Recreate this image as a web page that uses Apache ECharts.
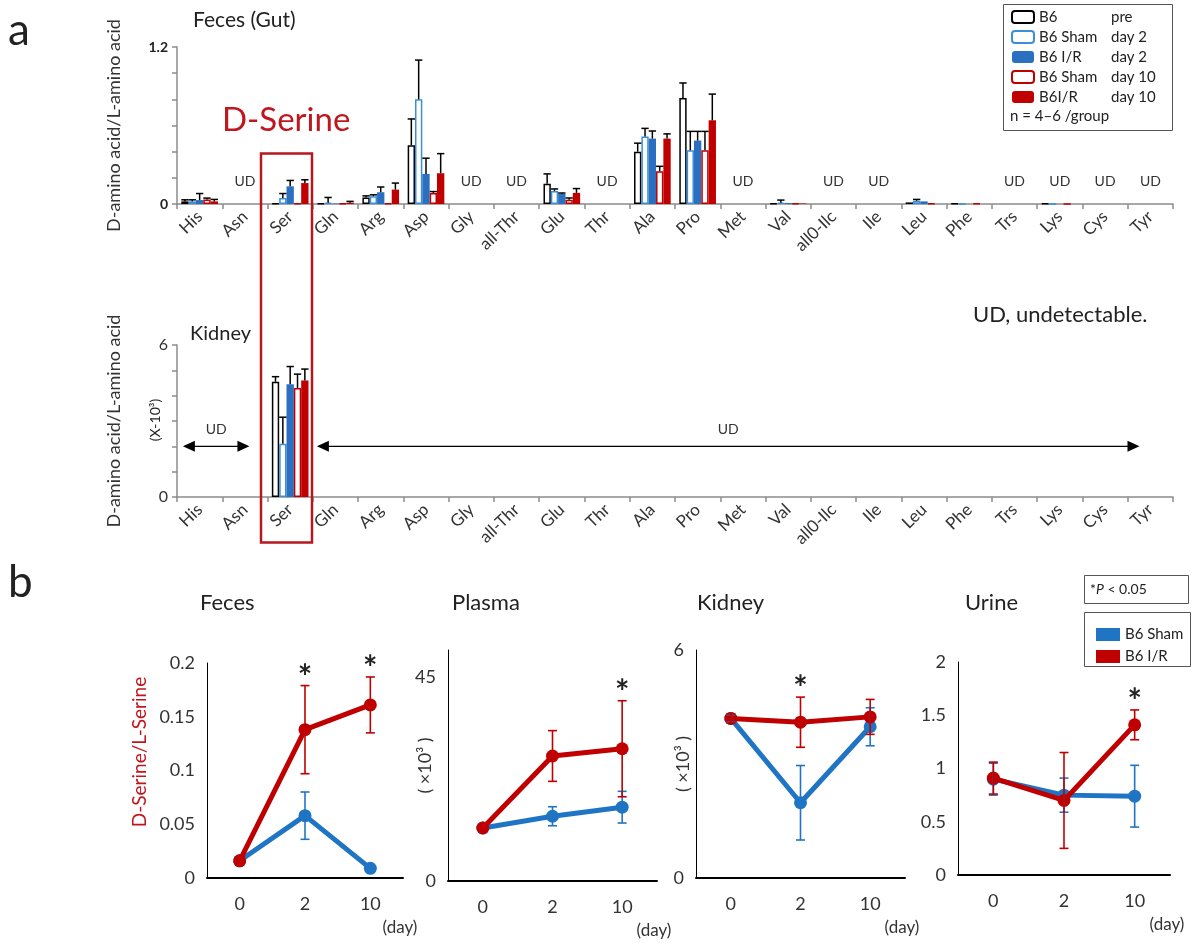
<!DOCTYPE html>
<html>
<head>
<meta charset="utf-8">
<script src="https://cdn.jsdelivr.net/npm/echarts@6/dist/echarts.min.js"></script>
<style>html,body{margin:0;padding:0;background:#fff;}#c{width:1198px;height:943px;}</style>
</head>
<body>
<div id="c"></div>
<script>
// ---------------- DATA ----------------
const aminoAcids = ['His','Asn','Ser','Gln','Arg','Asp','Gly','all-Thr','Glu','Thr','Ala','Pro','Met','Val','all0-Ilc','Ile','Leu','Phe','Trs','Lys','Cys','Tyr'];
const barGroups = ['B6','B6 Sham','B6 I/R','B6 Sham','B6I/R'];
const barTimes  = ['pre','day 2','day 2','day 10','day 10'];
// Feces (Gut) D/L ratio, per amino acid (null = UD)
//                 His   Asn   Ser    Gln    Arg   Asp   Gly  aThr  Glu    Thr   Ala   Pro   Met   Val    aIlc  Ile   Leu    Phe    Trs   Lys    Cys   Tyr
const fecesPre    = [0.02, null, 0.005, 0.005, 0.05, 0.45, null, null, 0.155, null, 0.40, 0.81, null, 0.005, null, null, 0.012, 0.004, null, 0.004, null, null];
const fecesPreErr = [0.012,0,    0,     0,     0.012,0.20, 0,    0,    0.075, 0,    0.065,0.115,0,    0,     0,    0,    0,     0,     0,    0,     0,    0];
const fecesSham2  = [0.02, null, 0.045, 0.01,  0.06, 0.80, null, null, 0.10,  null, 0.515,0.41, null, 0.01,  null, null, 0.025, 0,     null, 0,     null, null];
const fecesSham2Err=[0.012,0,    0.035, 0.04,  0.01, 0.30, 0,    0,    0.015, 0,    0.063,0.145,0,    0.02,  0,    0,    0.01,  0,     0,    0,     0,    0];
const fecesIR2    = [0.03, null, 0.135, 0.003, 0.09, 0.23, null, null, 0.078, null, 0.50, 0.485,null, 0.008, null, null, 0.02,  0,     null, 0,     null, null];
const fecesIR2Err = [0.05, 0,    0.045, 0,     0.04, 0.12, 0,    0,    0.006, 0,    0.058,0.07, 0,    0,     0,    0,    0,     0,     0,    0,     0,    0];
const fecesSham10 = [0.035,null, 0.005, 0.005, 0.005,0.085,null, null, 0.033, null, 0.25, 0.41, null, 0.005, null, null, 0.005, 0.004, null, 0,     null, null];
const fecesSham10Err=[0.01,0,    0,     0,     0,    0.01, 0,    0,    0.013, 0,    0.038,0.145,0,    0,     0,    0,    0,     0,     0,    0,     0,    0];
const fecesIR10   = [0.02, null, 0.16,  0.01,  0.11, 0.235,null, null, 0.085, null, 0.50, 0.64, null, 0.004, null, null, 0,     0,     null, 0,     null, null];
const fecesIR10Err= [0.015,0,    0.025, 0.01,  0.05, 0.15, 0,    0,    0.033, 0,    0.036,0.20, 0,    0,     0,    0,    0,     0,     0,    0,     0,    0];
const fecesUD = ['Asn','Gly','all-Thr','Thr','Met','all0-Ilc','Ile','Trs','Lys','Cys','Tyr'];
// Kidney D/L ratio (x10^-3): only Ser detected; order = pre, Sham d2, I/R d2, Sham d10, I/R d10
const kidneySer    = [4.55, 2.1, 4.45, 4.3, 4.6];
const kidneySerErr = [0.2, 1.05, 0.7, 0.55, 0.45];
// UD ranges in kidney (value-axis positions over the 22 categories)
const kidneyUDRanges = [[0.13, 1.6], [3.09, 21.26]];

// Time course (panel b)
const days = ['0','2','10'];
const fecesSham = [0.016, 0.058, 0.009],  fecesShamErr = [0, 0.022, 0];
const fecesIR   = [0.016, 0.138, 0.161],  fecesIRErr   = [0, 0.041, 0.026];
const fecesSig  = [0, 1, 1];
const plasmaSham = [11.7, 14.3, 16.3],    plasmaShamErr = [0, 2.1, 3.5];
const plasmaIR   = [11.7, 27.6, 29.2],    plasmaIRErr   = [0, 5.6, 10.6];
const plasmaSig  = [0, 0, 1];
const kidneySham = [4.20, 1.98, 3.98],    kidneyShamErr = [0.1, 0.98, 0.5];
const kidneyIR   = [4.20, 4.10, 4.24],    kidneyIRErr   = [0.12, 0.66, 0.46];
const kidneySig  = [0, 1, 0];
const urineSham = [0.90, 0.75, 0.74],     urineShamErr = [0.15, 0.16, 0.29];
const urineIR   = [0.91, 0.70, 1.41],     urineIRErr   = [0.15, 0.45, 0.14];
const urineSig  = [0, 0, 1];

// ---------------- STYLE ----------------
const FONT = 'Lato, "Open Sans", sans-serif';
const RED = '#C00000', BLUE = '#1F75C4', BAR_BLUE = '#2A6FC0', LIGHT_BLUE = '#3A8FD8';
const BAR_FRAC = 0.162;
const barNames = barGroups.map((g, i) => g + ' ' + barTimes[i]);
const barStyles = [
  {color:'#fff', borderColor:'#000', borderWidth:1.5},
  {color:'#fff', borderColor:LIGHT_BLUE, borderWidth:1.5},
  {color:BAR_BLUE, borderColor:BAR_BLUE, borderWidth:0},
  {color:'#fff', borderColor:RED, borderWidth:1.5},
  {color:RED, borderColor:RED, borderWidth:0}
];
const fecesVals = [fecesPre, fecesSham2, fecesIR2, fecesSham10, fecesIR10];
const fecesErrs = [fecesPreErr, fecesSham2Err, fecesIR2Err, fecesSham10Err, fecesIR10Err];

const chart = echarts.init(document.getElementById('c'), null, {renderer:'canvas'});

function barErrRender(params, api) {
  const ci = api.value(0), v = api.value(1), e = api.value(2), g = api.value(3);
  if (!(e > 0)) return;
  const band = api.size([1, 0])[0];
  const bw = band * BAR_FRAC;
  const p0 = api.coord([ci, v]);
  const p1 = api.coord([ci, v + e]);
  const cx = p0[0] + (g - 2) * bw;
  const st = {stroke:'#000', lineWidth:1.5};
  return {type:'group', children:[
    {type:'line', shape:{x1:cx, y1:p0[1], x2:cx, y2:p1[1]}, style:st},
    {type:'line', shape:{x1:cx - bw/2, y1:p1[1], x2:cx + bw/2, y2:p1[1]}, style:st}
  ]};
}
function lineErrRender(params, api) {
  const i = api.value(0), v = api.value(1), e = api.value(2), grp = api.value(3), sig = api.value(4);
  const color = grp === 0 ? BLUE : RED;
  const hi = api.coord([i, v + e]), lo = api.coord([i, v - e]);
  const cx = hi[0];
  const children = [];
  if (e > 0) {
    const st = {stroke:color, lineWidth:1.6};
    children.push({type:'line', shape:{x1:cx, y1:hi[1], x2:cx, y2:lo[1]}, style:st});
    children.push({type:'line', shape:{x1:cx-4.5, y1:hi[1], x2:cx+4.5, y2:hi[1]}, style:st});
    children.push({type:'line', shape:{x1:cx-4.5, y1:lo[1], x2:cx+4.5, y2:lo[1]}, style:st});
  }
  if (sig && grp === 1) {
    children.push({type:'text', style:{text:'*', x:cx, y:hi[1] - 8, align:'center', verticalAlign:'middle', font:'bold 34px ' + FONT, fill:'#222'}});
  }
  return {type:'group', children};
}

const grids = [
  {left:177, top:47, width:996, height:157},
  {left:177, top:345, width:996, height:152},
  {left:207, top:663, width:196, height:215},
  {left:448, top:650, width:209, height:231},
  {left:696, top:650, width:209, height:228},
  {left:958, top:662, width:212, height:213}
];

const catAxis = (gi) => ({
  type:'category', gridIndex:gi, data:aminoAcids, boundaryGap:true,
  axisLine:{lineStyle:{color:'#8c8c8c', width:1.5}},
  axisTick:{show:true, length:5, inside:false, lineStyle:{color:'#8c8c8c', width:1.5}},
  axisLabel:{rotate:44, fontSize:17, color:'#333', fontFamily:FONT, margin:10, interval:0},
  splitLine:{show:false}
});
const dayAxis = (gi) => ({
  type:'category', gridIndex:gi, data:days, boundaryGap:true,
  axisLine:{lineStyle:{color:'#000', width:2}},
  axisTick:{show:false},
  axisLabel:{fontSize:18, color:'#333', fontFamily:FONT, margin:17},
  name:'(day)', nameLocation:'end', nameGap:-3, nameMoveOverlap:false,
  nameTextStyle:{fontSize:17, color:'#333', fontFamily:FONT, align:'center', verticalAlign:'top', padding:[41,0,0,0]}
});
const lineY = (gi, max, interval, fmt, name, nameGap) => ({
  type:'value', gridIndex:gi, min:0, max:max, interval:interval,
  axisLine:{show:true, lineStyle:{color:'#000', width:1}},
  axisTick:{show:false}, splitLine:{show:false},
  axisLabel:{fontSize:18, color:'#333', fontFamily:FONT, margin:12, formatter:fmt},
  name:name || '', nameLocation:'middle', nameGap:nameGap || 0, nameMoveOverlap:false,
  nameTextStyle:{fontSize:18, color:'#333', fontFamily:FONT}
});

const xAxis = [
  catAxis(0),
  catAxis(1),
  {type:'value', gridIndex:1, min:0, max:22, show:false},
  dayAxis(2), dayAxis(3), dayAxis(4), dayAxis(5)
];
const yAxis = [
  {type:'value', gridIndex:0, min:0, max:1.2, interval:0.2,
   axisLine:{show:true, lineStyle:{color:'#8c8c8c', width:1.5}},
   axisTick:{show:true, length:5, lineStyle:{color:'#8c8c8c', width:1.5}},
   splitLine:{show:false},
   axisLabel:{fontSize:14, fontWeight:'bold', color:'#222', fontFamily:FONT, margin:9,
     formatter:v => (Math.abs(v) < 1e-9 ? '0' : (Math.abs(v - 1.2) < 1e-6 ? '1.2' : ''))},
   name:'D-amino acid/L-amino acid', nameLocation:'middle', nameGap:54, nameMoveOverlap:false,
   nameTextStyle:{fontSize:18, color:'#333', fontFamily:FONT}},
  {type:'value', gridIndex:1, min:0, max:6, interval:1,
   axisLine:{show:true, lineStyle:{color:'#8c8c8c', width:1.5}},
   axisTick:{show:true, length:5, lineStyle:{color:'#8c8c8c', width:1.5}},
   splitLine:{show:false},
   axisLabel:{fontSize:16, color:'#333', fontFamily:FONT, margin:9,
     formatter:v => (v === 0 || v === 6 ? String(v) : '')},
   name:'D-amino acid/L-amino acid', nameLocation:'middle', nameGap:54, nameMoveOverlap:false,
   nameTextStyle:{fontSize:18, color:'#333', fontFamily:FONT}},
  lineY(2, 0.2, 0.05, null),
  lineY(3, 51, 45, v => (v === 0 || v === 45 ? String(v) : ''), '( ×10³ )', 14),
  lineY(4, 6, 6, v => (v === 0 || v === 6 ? String(v) : ''), '( ×10³ )', 4),
  lineY(5, 2, 0.5, null)
];

const series = [];
// Feces bars
fecesVals.forEach((arr, g) => {
  series.push({name:barNames[g], type:'bar', xAxisIndex:0, yAxisIndex:0, data:arr,
    barWidth:(BAR_FRAC*100)+'%', barGap:'0%', itemStyle:barStyles[g], emphasis:{disabled:true}});
});
const fecesErrData = [];
fecesVals.forEach((arr, g) => arr.forEach((v, i) => { if (v != null) fecesErrData.push([i, v, fecesErrs[g][i], g]); }));
series.push({type:'custom', xAxisIndex:0, yAxisIndex:0, data:fecesErrData, renderItem:barErrRender, encode:{x:0, y:1}, z:5, silent:true});
series.push({type:'custom', xAxisIndex:0, yAxisIndex:0, silent:true,
  data:fecesUD.map(n => [aminoAcids.indexOf(n), 0.17]), encode:{x:0, y:1},
  renderItem:(p, api) => { const c = api.coord([api.value(0), api.value(1)]);
    return {type:'text', style:{text:'UD', x:c[0], y:c[1], align:'center', verticalAlign:'middle', font:'14px ' + FONT, fill:'#333'}}; }});
// Kidney bars
const serIdx = aminoAcids.indexOf('Ser');
barNames.forEach((nm, g) => {
  series.push({name:nm, type:'bar', xAxisIndex:1, yAxisIndex:1,
    data:aminoAcids.map((a, i) => i === serIdx ? kidneySer[g] : null),
    barWidth:(BAR_FRAC*100)+'%', barGap:'0%', itemStyle:barStyles[g], emphasis:{disabled:true}});
});
series.push({type:'custom', xAxisIndex:1, yAxisIndex:1, silent:true, z:5,
  data:kidneySer.map((v, g) => [serIdx, v, kidneySerErr[g], g]), renderItem:barErrRender, encode:{x:0, y:1}});
// Kidney UD arrows
series.push({type:'custom', xAxisIndex:2, yAxisIndex:1, silent:true,
  data:kidneyUDRanges.map(r => [r[0], r[1], 2]), encode:{x:[0,1], y:2},
  renderItem:(p, api) => {
    const a = api.coord([api.value(0), api.value(2)]), b = api.coord([api.value(1), api.value(2)]);
    const y = a[1], L = 12, H = 5.5;
    return {type:'group', children:[
      {type:'line', shape:{x1:a[0] + 4, y1:y, x2:b[0] - 4, y2:y}, style:{stroke:'#000', lineWidth:1.3}},
      {type:'polygon', shape:{points:[[a[0], y], [a[0] + L, y - H], [a[0] + L, y + H]]}, style:{fill:'#000'}},
      {type:'polygon', shape:{points:[[b[0], y], [b[0] - L, y - H], [b[0] - L, y + H]]}, style:{fill:'#000'}},
      {type:'text', style:{text:'UD', x:(a[0] + b[0]) / 2, y:y - 17, align:'center', verticalAlign:'middle', font:'14px ' + FONT, fill:'#333'}}
    ]};
  }});

// Time-course panels
const panels = [
  [fecesSham, fecesShamErr, fecesIR, fecesIRErr, fecesSig],
  [plasmaSham, plasmaShamErr, plasmaIR, plasmaIRErr, plasmaSig],
  [kidneySham, kidneyShamErr, kidneyIR, kidneyIRErr, kidneySig],
  [urineSham, urineShamErr, urineIR, urineIRErr, urineSig]
];
panels.forEach((p, k) => {
  const xi = 3 + k, yi = 2 + k;
  const [sh, shE, ir, irE, sig] = p;
  series.push({name:'B6 Sham', type:'line', xAxisIndex:xi, yAxisIndex:yi, data:sh,
    symbol:'circle', symbolSize:13, lineStyle:{color:BLUE, width:5}, itemStyle:{color:BLUE}, emphasis:{disabled:true}, z:2});
  series.push({name:'B6 I/R', type:'line', xAxisIndex:xi, yAxisIndex:yi, data:ir,
    symbol:'circle', symbolSize:13, lineStyle:{color:RED, width:5}, itemStyle:{color:RED}, emphasis:{disabled:true}, z:3});
  const ed = [];
  sh.forEach((v, i) => ed.push([i, v, shE[i], 0, sig[i]]));
  ir.forEach((v, i) => ed.push([i, v, irE[i], 1, sig[i]]));
  series.push({type:'custom', xAxisIndex:xi, yAxisIndex:yi, data:ed, encode:{x:0, y:1}, renderItem:lineErrRender, z:4, silent:true, clip:false});
});

const txt = (text, x, y, size, opts) => Object.assign({type:'text', x:x, y:y,
  style:Object.assign({text:text, font:size + 'px ' + FONT, fill:'#222', align:'left', verticalAlign:'middle'}, (opts && opts.style) || {})},
  opts && opts.el || {});

const graphic = [
  txt('a', 8, 31, 44),
  txt('b', 8, 583, 44),
  txt('Feces (Gut)', 193, 20, 21),
  txt('D-Serine', 222, 120, 33, {style:{fill:'#C0171E'}}),
  txt('Kidney', 190, 334, 20),
  txt('UD, undetectable.', 973, 315, 22),
  txt('(X-10³)', 155, 420, 14, {style:{align:'center'}, el:{rotation:Math.PI/2}}),
  txt('D-Serine/L-Serine', 140, 752, 19, {style:{align:'center', fill:'#C0171E'}, el:{rotation:Math.PI/2}}),
  txt('Feces', 200, 603, 22),
  txt('Plasma', 452, 603, 22),
  txt('Kidney', 697, 603, 22),
  txt('Urine', 965, 603, 22),
  {type:'rect', shape:{x:261, y:153.5, width:51, height:389}, style:{fill:'none', stroke:'#B5191F', lineWidth:2.5}, z:10},
  {type:'rect', shape:{x:1003.5, y:4.5, width:169, height:126}, style:{fill:'none', stroke:'#555', lineWidth:1}},
  txt('n = 4–6 /group', 1010, 116, 15),
  {type:'rect', shape:{x:1084.5, y:575.5, width:104, height:28}, style:{fill:'none', stroke:'#555', lineWidth:1}},
  {type:'text', x:1090, y:589, style:{text:'{a|*}{b|P}{a| < 0.05}', verticalAlign:'middle', font:'14px ' + FONT, fill:'#222',
    rich:{a:{fontSize:14, fontFamily:FONT, fill:'#222'}, b:{fontSize:14, fontFamily:FONT, fontStyle:'italic', fill:'#222'}}}},
  {type:'rect', shape:{x:1084.5, y:612.5, width:106, height:54}, style:{fill:'none', stroke:'#555', lineWidth:1}}
];

chart.setOption({
  animation:false,
  backgroundColor:'#fff',
  textStyle:{fontFamily:FONT},
  grid:grids,
  xAxis:xAxis,
  yAxis:yAxis,
  legend:[
    {data:barNames, orient:'vertical', left:1009, top:7, itemWidth:22, itemHeight:12, itemGap:4, selectedMode:false, padding:[2,2,2,2],
     textStyle:{fontSize:15, color:'#222', fontFamily:FONT, lineHeight:16,
       rich:{g:{width:72, fontSize:15, fontFamily:FONT, color:'#222', lineHeight:16}, t:{fontSize:15, fontFamily:FONT, color:'#222', lineHeight:16}}},
     formatter:name => { const i = barNames.indexOf(name); return '{g|' + barGroups[i] + '}{t|' + barTimes[i] + '}'; }},
    {data:[{name:'B6 Sham', icon:'rect'}, {name:'B6 I/R', icon:'rect'}], orient:'vertical', left:1091, top:622,
     itemWidth:24, itemHeight:13, itemGap:7, selectedMode:false,
     textStyle:{fontSize:15, color:'#222', fontFamily:FONT}}
  ],
  graphic:graphic,
  series:series
});
</script>
</body>
</html>
